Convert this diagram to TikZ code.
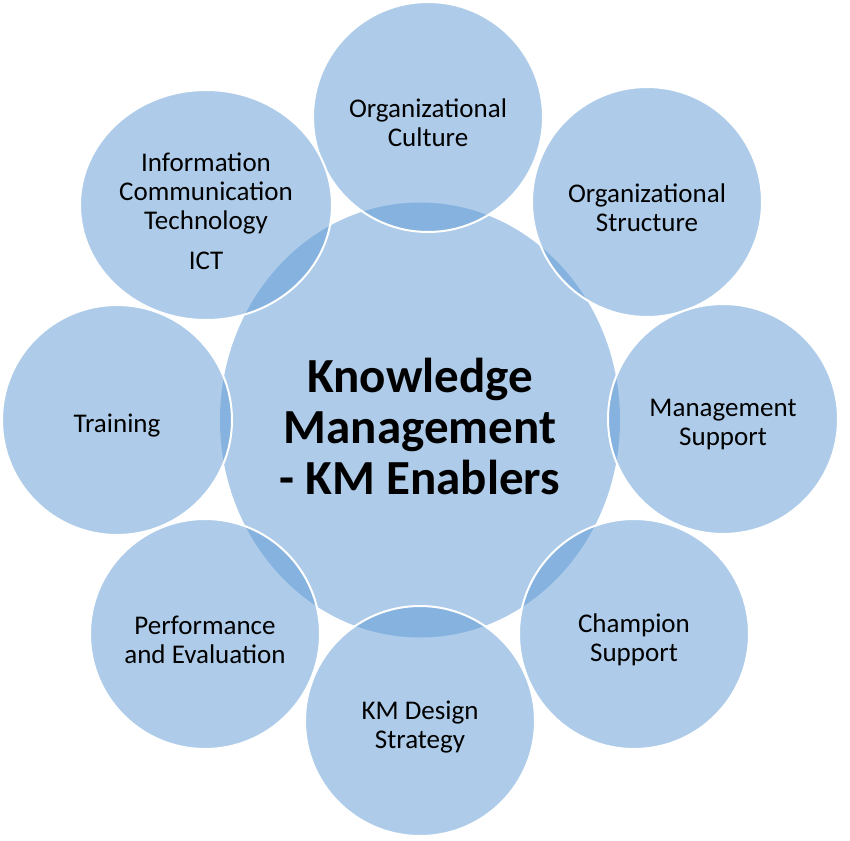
\documentclass[tikz,border=0pt]{standalone}
\usepackage{fontspec}
\setmainfont{Carlito}
\usepackage{tikz}
\usetikzlibrary{shapes.geometric}
\definecolor{kmblue}{RGB}{93,153,211}

\begin{document}
\begin{tikzpicture}[x=1pt, y=-1pt,
    bubble/.style={ellipse, fill=kmblue, fill opacity=0.5, inner sep=0pt},
    hub/.style={bubble, minimum width=400pt, minimum height=435pt,
      label={[hubtext]center:#1}},
    hubtext/.style={align=center, text opacity=1, yshift=-6pt,
      font=\fontsize{49}{51}\selectfont\bfseries},
    enabler/.style={bubble, draw=white, draw opacity=1, line width=2pt,
      minimum width=230pt, minimum height=230pt,
      label={[enablertext]center:#1}},
    enablertext/.style={align=center, text opacity=1, yshift=-6pt,
      font=\fontsize{27}{29}\selectfont}]
    \useasboundingbox (0,0) rectangle (850,840);

    % Central circle
    \node[hub={Knowledge\\Management\\- KM Enablers}] (km) at (420,420) {};

    % Enablers around it
    \node[enabler={Organizational\\Culture}]   (culture)   at (428,117) {};
    \node[enabler={Organizational\\Structure}] (structure) at (647,202) {};
    \node[enabler={Management\\Support}]       (mgmt)      at (723,419) {};
    \node[enabler={Champion\\Support}]         (champion)  at (634,634) {};
    \node[enabler={KM Design\\Strategy}]       (design)    at (420,721) {};
    \node[enabler={Performance\\and Evaluation}] (perf)    at (205,634) {};
    \node[enabler={Training}]                  (training)  at (117,420) {};
    \node[enabler={Information\\Communication\\Technology\\[11pt]ICT},
          minimum width=252pt] (ict) at (206,205) {};
\end{tikzpicture}
\end{document}
